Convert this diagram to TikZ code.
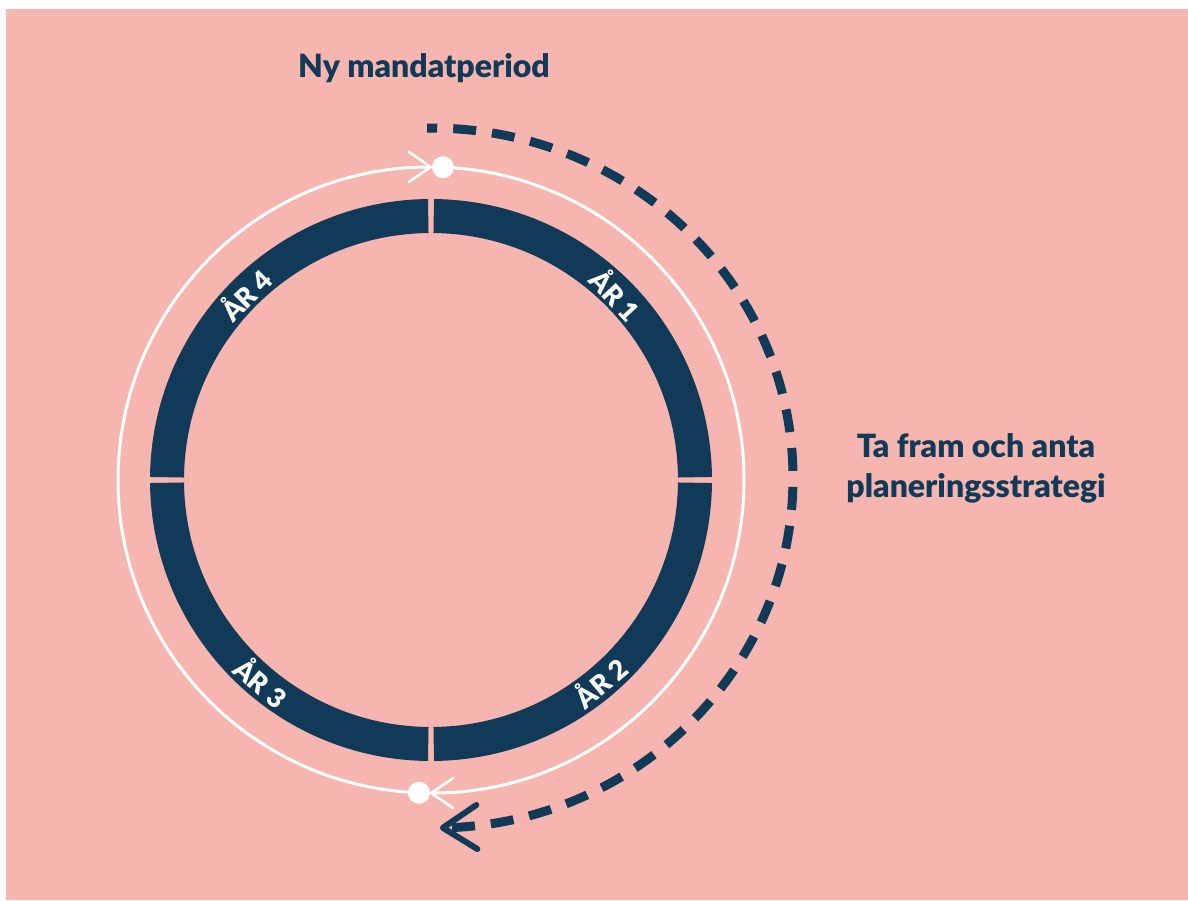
\documentclass[tikz,border=0pt]{standalone}
\usepackage{fontspec}
\setmainfont{Lato}[BoldFont={Lato Black}]
\usetikzlibrary{arrows.meta}

\newlength{\du}
\setlength{\du}{1pt}

\definecolor{dianavy}{rgb}{0.063, 0.227, 0.345}
\definecolor{diapink}{rgb}{0.965, 0.714, 0.686}

\tikzset{
  ring/.style={draw=dianavy, line width=34\du},
  whiteline/.style={draw=white, line width=3\du,
    -{Straight Barb[length=22pt, width=30pt, line width=2.6pt, round]}},
  dashline/.style={draw=dianavy, line width=9\du, dash pattern=on 23\du off 16\du, dash phase=13\du,
    -{Straight Barb[length=34pt, width=44pt, line width=6pt, round]}},
  dot/.style={circle, fill=white, inner sep=0pt, minimum size=22\du},
  yearlabel/.style={text=white, font=\fontsize{27}{27}\selectfont\bfseries, inner sep=0pt},
  bigtext/.style={text=dianavy, font=\fontsize{32}{40}\selectfont\bfseries, align=center, inner sep=0pt}
}

\begin{document}
\begin{tikzpicture}
\pgftransformxscale{1.000000}
\pgftransformyscale{-1.000000}
\useasboundingbox (0\du,0\du) rectangle (1188\du,901\du);
\fill[diapink] (6\du,9\du) rectangle (1188\du,900\du);
\coordinate (c) at (431\du,480\du);
\coordinate (d) at (431\du,478\du);
% the four years
\draw[ring] (c) ++(-0.6:264\du) arc[start angle=-0.6, end angle=-89.4, radius=264\du];
\draw[ring] (c) ++(0.6:264\du) arc[start angle=0.6, end angle=89.4, radius=264\du];
\draw[ring] (c) ++(90.6:264\du) arc[start angle=90.6, end angle=179.4, radius=264\du];
\draw[ring] (c) ++(180.6:264\du) arc[start angle=180.6, end angle=269.4, radius=264\du];
\path (c) ++(-45:263\du) node[yearlabel, rotate=-47] (ar1) {ÅR 1};
\path (c) ++(50:263\du) node[yearlabel, rotate=40] (ar2) {ÅR 2};
\path (c) ++(130:263\du) node[yearlabel, rotate=-40] (ar3) {ÅR 3};
\path (c) ++(-135:263\du) node[yearlabel, rotate=45] (ar4) {ÅR 4};
% white cycle
\path (c) ++(-87.8:313\du) node[dot] (start) {};
\path (c) ++(92.2:313\du) node[dot] (stop) {};
\draw[whiteline] (stop.center) arc[start angle=92.2, end angle=270.2, radius=313\du];
\draw[whiteline] (start.center) arc[start angle=-87.8, end angle=90.2, radius=313\du];
% strategy arrow
\path (d) ++(-90.6:362pt and 350pt) coordinate (dashstart);
\draw[dashline] (dashstart) arc[start angle=-90.6, end angle=88.6, x radius=362\du, y radius=350\du];
% texts
\node[bigtext, anchor=base] (ny) at (424\du,78\du) {Ny mandatperiod};
\node[bigtext] (ta) at (976\du,468\du) {Ta fram och anta\\planeringsstrategi};
\end{tikzpicture}
\end{document}
